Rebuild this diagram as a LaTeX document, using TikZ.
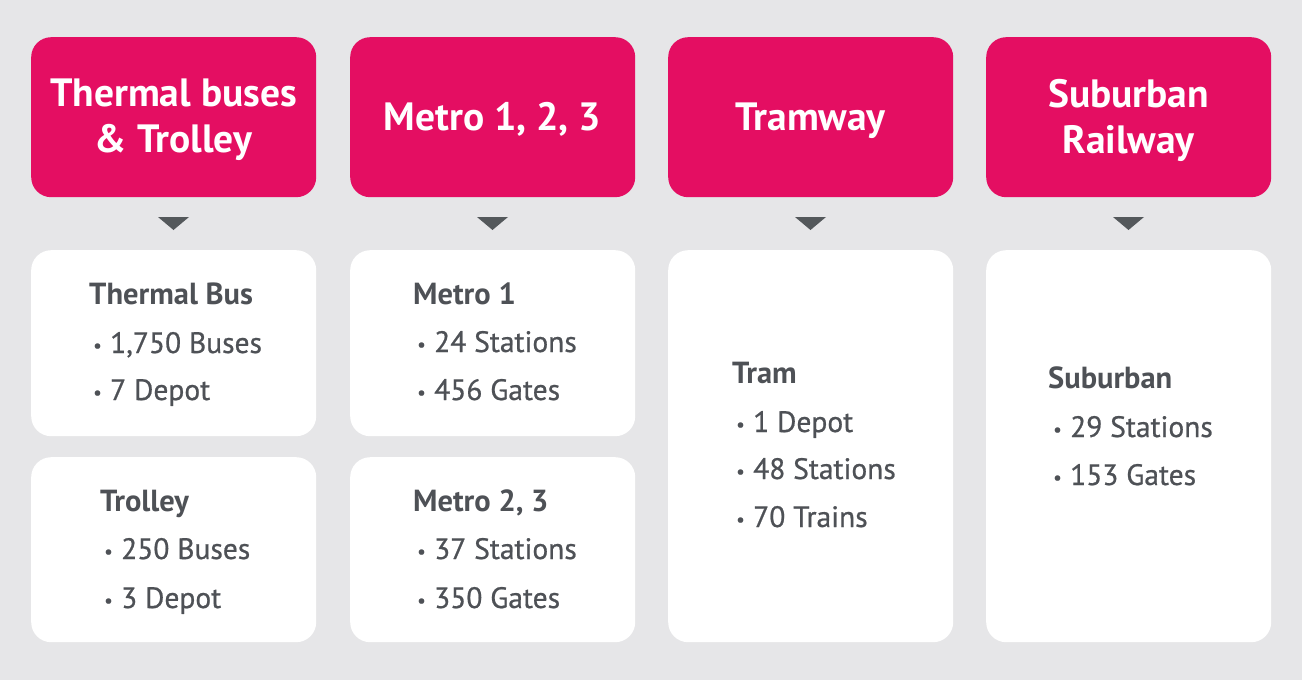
\documentclass[tikz,border=0pt]{standalone}
\usepackage{fontspec}
\setmainfont{PT Sans}
\newfontface\itemface{PT Sans}[FakeBold=0.7]
\definecolor{bgc}{HTML}{E6E6E8}
\definecolor{pinkc}{HTML}{E40E62}
\definecolor{txtc}{HTML}{4E5156}
\definecolor{arrc}{HTML}{54585B}
\newcommand{\itm}[1]{\makebox[17pt][l]{\fontsize{19}{19}\selectfont\raisebox{1pt}{•}}#1}
\tikzset{
  hdrbox/.style={fill=pinkc, rounded corners=20pt, minimum width=285pt, minimum height=160pt, inner sep=0pt, anchor=north west},
  cardbox/.style={fill=white, rounded corners=20pt, minimum width=285pt, inner sep=0pt, anchor=north west},
  hdrtext/.style={text=white, font=\bfseries\fontsize{39.5}{46}\selectfont, inner sep=0pt, anchor=base},
  ttl/.style={text=txtc, font=\bfseries\fontsize{30.5}{30}\selectfont, inner sep=0pt, anchor=base west},
  itemtext/.style={text=txtc, font=\itemface\fontsize{29.5}{29}\selectfont, inner sep=0pt, anchor=base west},
  pointer/.style={fill=arrc}
}
\begin{document}
\begin{tikzpicture}[x=1pt,y=-1pt]
\fill[bgc] (0,0) rectangle (1302,680);
\useasboundingbox (0,0) rectangle (1302,680);
% headers
\node[hdrbox] (h1) at (31,37) {};
\node[hdrbox] (h2) at (350,37) {};
\node[hdrbox] (h3) at (668,37) {};
\node[hdrbox] (h4) at (986,37) {};
\node[hdrtext] (h1a) at (173.5,106) {Thermal buses};
\node[hdrtext] (h1b) at (173.5,152) {\& Trolley};
\node[hdrtext] (h2a) at (492.5,130) {Metro 1, 2, 3};
\node[hdrtext] (h3a) at (810.5,130) {Tramway};
\node[hdrtext] (h4a) at (1128.5,107) {Suburban};
\node[hdrtext] (h4b) at (1128.5,153) {Railway};
% pointers
\foreach \cx in {173.5,492.5,810.5,1128.5}{
  \fill[pointer] (\cx-15.5,217) -- (\cx+15.5,217) -- (\cx,230) -- cycle;
}
% cards
\node[cardbox, minimum height=186pt] (c1a) at (31,250) {};
\node[cardbox, minimum height=185pt] (c1b) at (31,457) {};
\node[cardbox, minimum height=186pt] (c2a) at (350,250) {};
\node[cardbox, minimum height=185pt] (c2b) at (350,457) {};
\node[cardbox, minimum height=392pt] (c3) at (668,250) {};
\node[cardbox, minimum height=392pt] (c4) at (986,250) {};
% card texts
\node[ttl] (t1a) at (89,304) {Thermal Bus};
\node[itemtext] (t1a1) at (93,353) {\itm{1,750 Buses}};
\node[itemtext] (t1a2) at (93,400) {\itm{7 Depot}};
\node[ttl] (t1b) at (100,511) {Trolley};
\node[itemtext] (t1b1) at (104,559) {\itm{250 Buses}};
\node[itemtext] (t1b2) at (104,608) {\itm{3 Depot}};
\node[ttl] (t2a) at (413,304) {Metro 1};
\node[itemtext] (t2a1) at (417,352) {\itm{24 Stations}};
\node[itemtext] (t2a2) at (417,400) {\itm{456 Gates}};
\node[ttl] (t2b) at (413,511) {Metro 2, 3};
\node[itemtext] (t2b1) at (417,559) {\itm{37 Stations}};
\node[itemtext] (t2b2) at (417,608) {\itm{350 Gates}};
\node[ttl] (t3) at (732,383) {Tram};
\node[itemtext] (t31) at (736,432) {\itm{1 Depot}};
\node[itemtext] (t32) at (736,479) {\itm{48 Stations}};
\node[itemtext] (t33) at (736,527) {\itm{70 Trains}};
\node[ttl] (t4) at (1048,388) {Suburban};
\node[itemtext] (t41) at (1053,437) {\itm{29 Stations}};
\node[itemtext] (t42) at (1053,485) {\itm{153 Gates}};
\end{tikzpicture}
\end{document}
